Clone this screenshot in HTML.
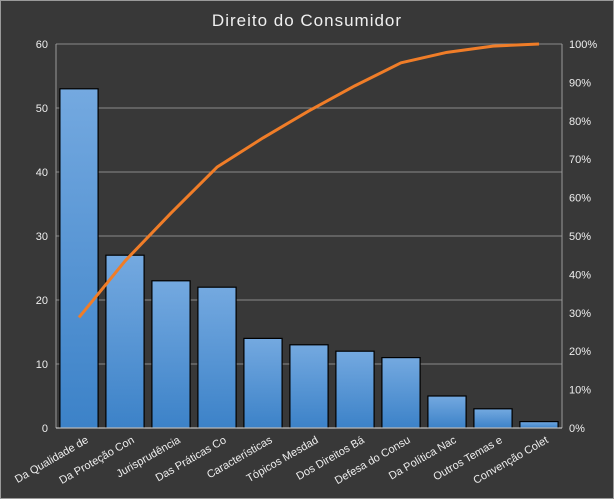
<!DOCTYPE html>
<html><head><meta charset="utf-8">
<style>
html,body{margin:0;padding:0;background:#383838;}
svg{display:block;font-family:"Liberation Sans","DejaVu Sans",sans-serif;}
</style></head>
<body>
<svg id="chart" width="614" height="499" xmlns="http://www.w3.org/2000/svg">
<defs>
<linearGradient id="barg" x1="0" y1="0" x2="0" y2="1">
<stop offset="0" stop-color="#74a9e0"/><stop offset="1" stop-color="#3c82c8"/>
</linearGradient>
</defs>
<rect x="0.5" y="0.5" width="613" height="498" fill="#383838" stroke="#9a9a9a"/>
<text x="307" y="26" text-anchor="middle" fill="#f0f0f0" font-size="17" letter-spacing="1">Direito do Consumidor</text>
<g id="grid"></g>
<g id="bars"></g>
<g id="line"></g>
<g id="axes"></g>
</svg>
<script>
const categories=["Da Qualidade de","Da Proteção Con","Jurisprudência","Das Práticas Co","Características","Tópicos Mesdad","Dos Direitos Bá","Defesa do Consu","Da Política Nac","Outros Temas e","Convenção Colet"];
const values=[53,27,23,22,14,13,12,11,5,3,1];
const leftTicks=[0,10,20,30,40,50,60];
const rightTicks=[0,10,20,30,40,50,60,70,80,90,100];

const NS="http://www.w3.org/2000/svg";
const X0=56,X1=562,Y0=428,Y1=44;
const band=(X1-X0)/categories.length;
const yL=v=>Y0-(v/60)*(Y0-Y1);
const yR=p=>Y0-(p/100)*(Y0-Y1);
const xC=i=>X0+band*(i+0.5);
function mk(tag,attrs,parent){const e=document.createElementNS(NS,tag);for(const k in attrs)e.setAttribute(k,attrs[k]);parent.appendChild(e);return e;}
const grid=document.getElementById('grid'),bars=document.getElementById('bars'),line=document.getElementById('line'),axes=document.getElementById('axes');

leftTicks.forEach(t=>{
  if(t>0){const g=mk('line',{x1:X0,x2:X1,y1:yL(t),y2:yL(t),stroke:'#8a8a8a','stroke-width':1},grid);
  
  }
  const l=mk('text',{x:X0-8,y:yL(t)+4,'text-anchor':'end',fill:'#eeeeee','font-size':11},axes);
  l.textContent=t;
  
  
});
rightTicks.forEach(t=>{
  const l=mk('text',{x:X1+7,y:yR(t)+4,'text-anchor':'start',fill:'#eeeeee','font-size':11},axes);
  l.textContent=t+'%';
  
  
});
let a=mk('line',{x1:X0,x2:X0,y1:Y1,y2:Y0,stroke:'#9a9a9a'},axes);


a=mk('line',{x1:X1,x2:X1,y1:Y1,y2:Y0,stroke:'#9a9a9a'},axes);


a=mk('line',{x1:X0,x2:X1,y1:Y0,y2:Y0,stroke:'#e0e0e0'},axes);



const bw=band*0.83;
values.forEach((v,i)=>{
  const r=mk('rect',{x:xC(i)-bw/2,y:yL(v),width:bw,height:Y0-yL(v),fill:'url(#barg)',stroke:'#000','stroke-width':1.2},bars);
  
  
  const t=mk('text',{x:xC(i)+10,y:Y0+14,'text-anchor':'end',fill:'#eeeeee','font-size':11,transform:`rotate(-30 ${xC(i)+10} ${Y0+14})`},axes);
  t.textContent=categories[i];
  
  
});

const total=values.reduce((s,v)=>s+v,0);
let cum=0;const pts=values.map((v,i)=>{cum+=v;return xC(i)+','+yR(cum/total*100);});
const p=mk('polyline',{points:pts.join(' '),fill:'none',stroke:'#f07d28','stroke-width':3,'stroke-linejoin':'round'},line);


</script>
</body></html>
